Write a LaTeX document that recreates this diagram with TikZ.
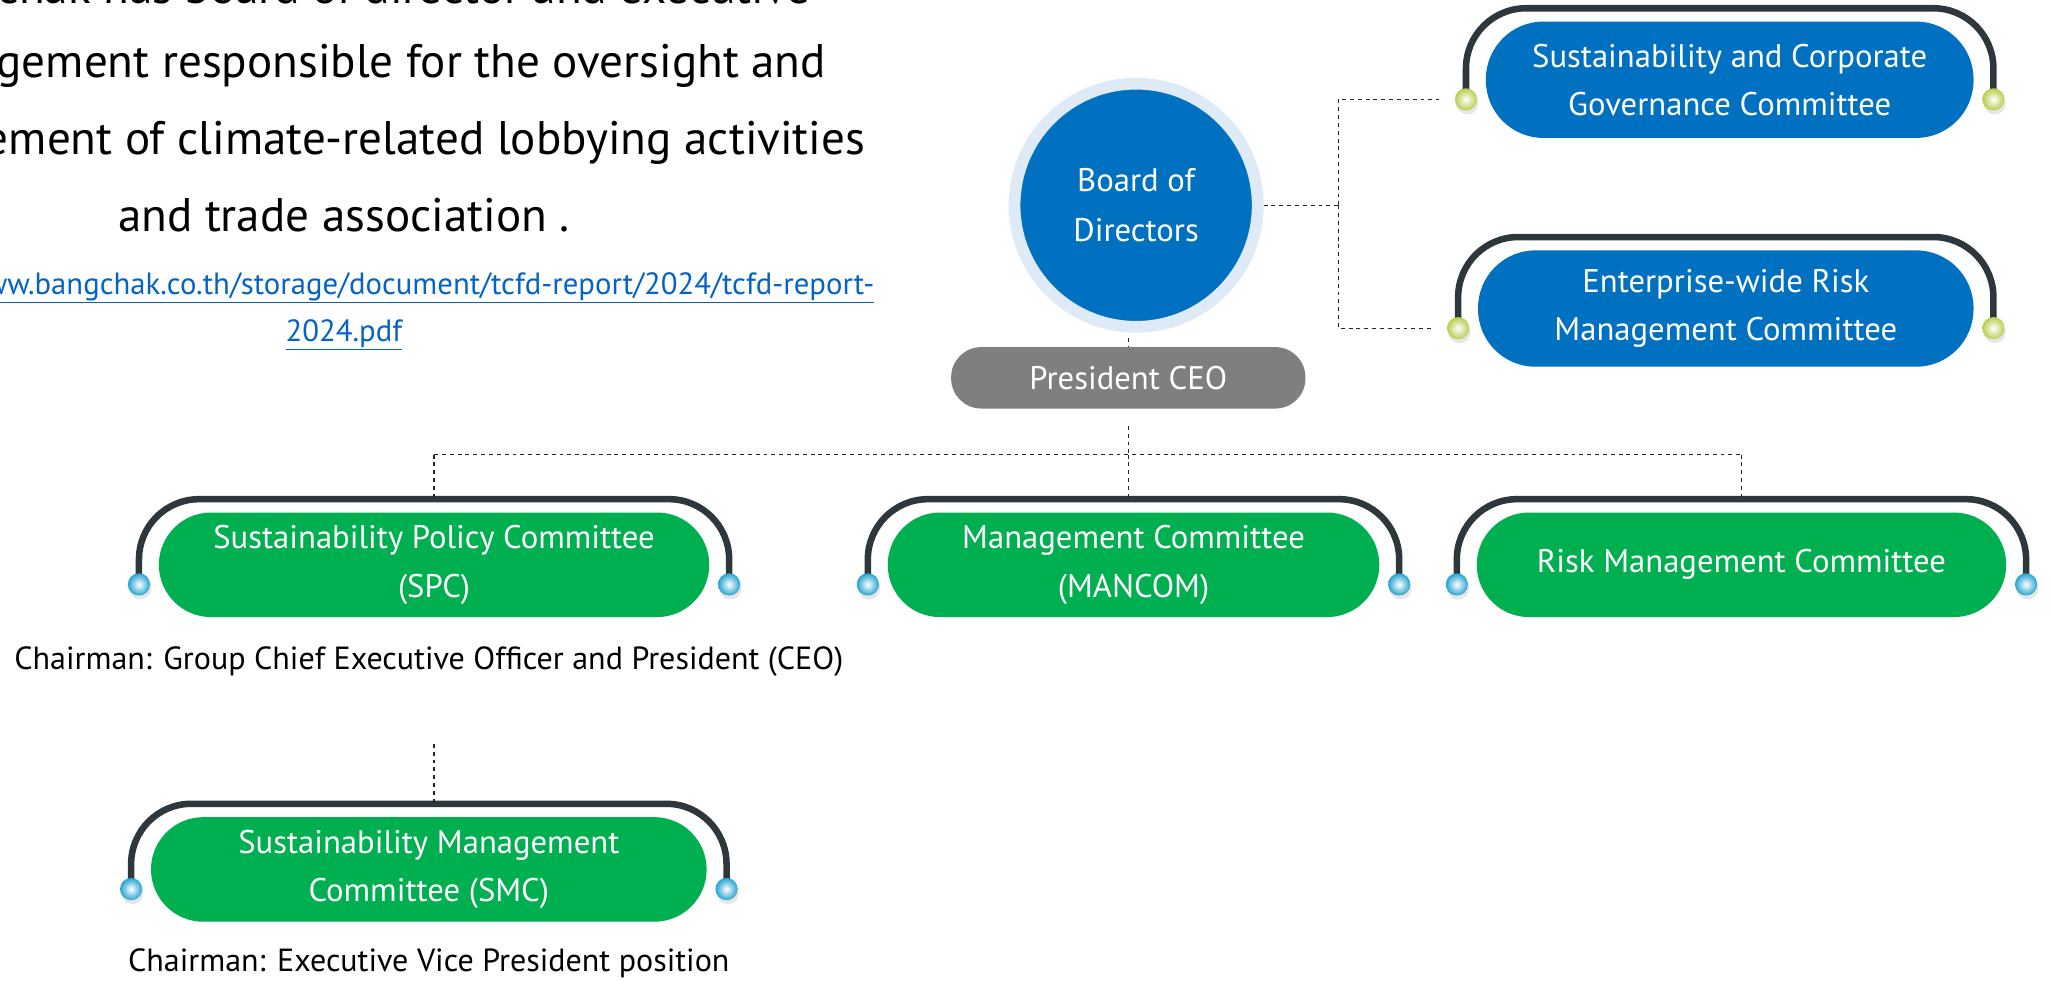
\documentclass[tikz,border=0pt]{standalone}
\usepackage{fontspec}
\setmainfont{PT Sans}
\usetikzlibrary{shapes,arrows,positioning,shadows}
\definecolor{boardblue}{HTML}{0070C0}
\definecolor{ringblue}{HTML}{DEEAF6}
\definecolor{pillgreen}{HTML}{00AF50}
\definecolor{ceogray}{HTML}{7F7F7F}
\definecolor{bracketgray}{HTML}{2E373C}
\definecolor{linkblue}{HTML}{0563C1}
\definecolor{limeknob}{HTML}{D8F25C}
\definecolor{cyanknob}{HTML}{2CC0F5}
\tikzset{
  connector/.style={draw=black!85,dashed,line width=0.9pt},
  bracket/.style={draw=bracketgray,line width=5pt,rounded corners=46pt},
  knob/.style={circle,inner sep=0pt,minimum size=17pt,
    drop shadow={opacity=0.2,shadow xshift=1pt,shadow yshift=-3pt}},
}

\newcommand{\committeebracket}[2]{
  \draw[bracket] ([xshift=-15pt,yshift=-14pt]#1.west) -- ([xshift=-15pt,yshift=10pt]#1.north west)
    -- ([xshift=15pt,yshift=10pt]#1.north east) -- ([xshift=15pt,yshift=-14pt]#1.east);
  \node[knob,inner color=white,outer color=#2!85!black] (#1-left) at ([xshift=-15pt,yshift=-15pt]#1.west) {};
  \node[knob,inner color=white,outer color=#2!85!black] (#1-right) at ([xshift=15pt,yshift=-15pt]#1.east) {};
  \coordinate (#1-top) at ([yshift=10pt]#1.north);
}

\begin{document}
\begin{tikzpicture}[x=1pt,y=1pt
        , pill/.style={
             rectangle
            , align=center
            , fill=pillgreen
            , text=white
            , rounded corners=40pt
            , minimum height=80pt
            , inner sep=0pt
            , font=\fontsize{25}{37}\selectfont
        }
        , bluepill/.style={
             pill
            , fill=boardblue
            , rounded corners=44pt
            , minimum height=89pt
        }
        , chair/.style={
             align=center
            , font=\fontsize{24.5}{28}\selectfont
        }
        , intro/.style={
             anchor=base east
            , inner sep=0pt
            , font=\fontsize{36}{59}\selectfont
        }
        , link/.style={
             inner sep=0pt
            , text=linkblue
            , font=\fontsize{23.5}{36}\selectfont
        }
        ]
        \clip (0,-750) rectangle (1568,0);

        \node[intro] (intro1) at (620,-3) {Bangchak has board of director and executive};
        \node[intro] (intro2) at (632,-59) {management responsible for the oversight and};
        \node[intro] (intro3) at (662,-118) {management of climate-related lobbying activities};
        \node[intro,anchor=base] (intro4) at (263,-177) {and trade association .};
        \node[link,anchor=base east] (url1) at (669,-225) {\underline{https://www.bangchak.co.th/storage/document/tcfd-report/2024/tcfd-report-}};
        \node[link,anchor=base] (url2) at (263,-261) {\underline{2024.pdf}};

        \node[circle,fill=boardblue,draw=ringblue,line width=9pt,minimum size=186pt,inner sep=0pt
            ,align=center,text=white,font=\fontsize{25}{38}\selectfont] (board) at (869,-157) {Board of\\Directors};
        \node[rectangle,fill=ceogray,rounded corners=23pt,minimum width=271pt,minimum height=47pt
            ,text=white,font=\fontsize{25}{30}\selectfont] (ceo) at (863,-289) {President CEO};

        \node[bluepill,minimum width=373pt] (scg) at (1323,-61) {Sustainability and Corporate\\Governance Committee};
        \node[bluepill,minimum width=379pt] (erm) at (1320,-236) {Enterprise-wide Risk\\Management Committee};

        \node[pill,minimum width=421pt] (spc) at (332,-432) {Sustainability Policy Committee\\(SPC)};
        \node[pill,minimum width=376pt] (mancom) at (867,-432) {Management Committee\\(MANCOM)};
        \node[pill,minimum width=405pt] (rmc) at (1332,-432) {Risk Management Committee};
        \node[pill,minimum width=425pt] (smc) at (328,-665) {Sustainability Management\\Committee (SMC)};

        \node[chair] (spcchair) at (328,-506) {Chairman: Group Chief Executive Officer and President (CEO)};
        \node[chair] (smcchair) at (328,-737) {Chairman: Executive Vice President position};

        \committeebracket{scg}{limeknob}
        \committeebracket{erm}{limeknob}
        \committeebracket{spc}{cyanknob}
        \committeebracket{mancom}{cyanknob}
        \committeebracket{rmc}{cyanknob}
        \committeebracket{smc}{cyanknob}

        \draw[connector] (board.east) -- ++(57,0) coordinate (split);
        \draw[connector,shorten >=12pt] (split) |- (scg-left);
        \draw[connector,shorten >=12pt] (split) |- (erm-left);
        \draw[connector,shorten <=4pt] (ceo.north |- board.south) -- (ceo.north);
        \draw[connector,shorten <=13pt] (ceo.south) -- ++(0,-35) coordinate (bus);
        \draw[connector] (bus -| spc-top) -- (bus -| rmc-top);
        \draw[connector] (bus -| spc-top) -- (spc-top);
        \draw[connector] (bus) -- (bus |- mancom-top);
        \draw[connector] (bus -| rmc-top) -- (rmc-top);
        \draw[connector,shorten <=48pt] (spcchair.south -| spc-top) -- (smc-top -| spc-top);
    \end{tikzpicture}
\end{document}
